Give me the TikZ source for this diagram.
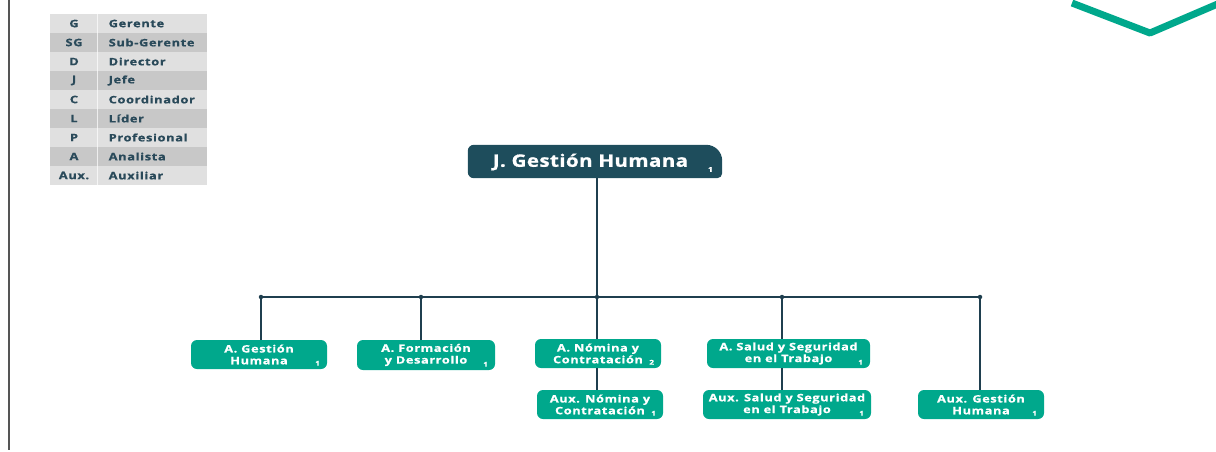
\documentclass[tikz,border=0pt]{standalone}
\usepackage{fontspec}
\setmainfont{Open Sans}
\newfontfamily\boxfont[FakeStretch=1.25,LetterSpace=6,FakeBold=0.8]{Open Sans}
\newfontfamily\titlefont[FakeStretch=1.2,LetterSpace=2,FakeBold=0.8]{Open Sans}
\newfontfamily\legfont[FakeStretch=1.25,LetterSpace=6,FakeBold=0.8]{Open Sans}
\definecolor{teal1}{HTML}{00A88C}
\definecolor{darknode}{HTML}{1E4D5C}
\definecolor{linec}{HTML}{1F3F4F}
\definecolor{legtext}{HTML}{2A4A5A}
\definecolor{rowlight}{HTML}{E0E0E0}
\definecolor{rowdark}{HTML}{C8C8C8}
\definecolor{sidebar}{HTML}{555555}
\tikzset{
  box/.style={fill=teal1, rounded corners=6pt, inner sep=0pt, text=white,
    font=\boxfont\bfseries\fontsize{10.2}{11.8}\selectfont, align=center},
  sub/.style={text=white, font=\boxfont\bfseries\fontsize{6.6}{7}\selectfont, inner sep=0pt, anchor=south east},
  conn/.style={draw=linec, line width=1.3pt},
  dot/.style={circle, fill=linec, inner sep=0pt, minimum size=4.5pt},
  legab/.style={text=legtext, font=\legfont\bfseries\fontsize{10.3}{12}\selectfont, inner sep=0pt},
  legname/.style={text=legtext, font=\legfont\bfseries\fontsize{10.3}{12}\selectfont, inner sep=0pt, anchor=west},
}
\begin{document}
\begin{tikzpicture}[x=1pt, y=-1pt]
\useasboundingbox (0,0) rectangle (1216,451);
% side bar
\draw[sidebar, line width=1.6pt] (9,0) -- (9,450);
% chevron
\draw[teal1, line width=7pt, line join=round] (1072,3) -- (1150,33) -- (1220,3);
% legend
\foreach \i/\ab/\nm in {0/G/Gerente,1/SG/Sub-Gerente,2/D/Director,3/J/Jefe,4/C/Coordinador,5/L/Líder,6/P/Profesional,7/A/Analista,8/Aux./Auxiliar}{
  \pgfmathsetmacro{\ytop}{14+19*\i}
  \pgfmathtruncatemacro{\odd}{mod(\i,2)}
  \ifnum\odd=1 \def\rc{rowdark}\else\def\rc{rowlight}\fi
  \fill[\rc] (50,\ytop) rectangle (207,\ytop+19);
  \node[legab] (ab\i) at (74,\ytop+9.5) {\ab};
  \node[legname] (nm\i) at (108.5,\ytop+9.5) {\nm};
}
\draw[white, line width=0.8pt, opacity=0.7] (97,14) -- (97,185);
% top node
\node[minimum width=254pt, minimum height=33pt, inner sep=0pt] (top) at (595,161.5) {};
\fill[darknode] (top.south west) [rounded corners=6pt] -- (top.north west) [rounded corners=16pt] -- (top.north east) [rounded corners=5pt] -- (top.south east) [rounded corners=6pt] -- cycle;
\node[text=white, font=\titlefont\bfseries\fontsize{17.2}{20}\selectfont, inner sep=0pt] (toptext) at (590.5,162) {J. Gestión Humana};
\node[sub] (topsub) at (713,172) {1};
% boxes
\node[box, minimum width=136pt, minimum height=29pt] (b1) at (259,354.5) {A. Gestión\\Humana};
\node[box, minimum width=138pt, minimum height=30pt] (b2) at (426,355) {A. Formación\\y Desarrollo};
\node[box, minimum width=126pt, minimum height=29pt] (b3) at (598,353.5) {A. Nómina y\\Contratación};
\node[box, minimum width=163pt, minimum height=29pt] (b4) at (788.5,353.5) {A. Salud y Seguridad\\en el Trabajo};
\node[box, minimum width=126pt, minimum height=29pt] (b5) at (600,404.5) {Aux. Nómina y\\Contratación};
\node[box, minimum width=168pt, minimum height=29pt] (b6) at (787,404.5) {Aux. Salud y Seguridad\\en el Trabajo};
\node[box, minimum width=126pt, minimum height=29pt] (b7) at (981,404.5) {Aux. Gestión\\Humana};
\foreach \b/\n in {b1/1,b2/1,b3/2,b4/1,b5/1,b6/1,b7/1}{
  \node[sub] at ([xshift=-7pt, yshift=3.3pt]\b.south east) {\n};
}
% bus
\coordinate (c1) at (261,297);
\coordinate (c2) at (421,297);
\coordinate (c3) at (597,297);
\coordinate (c4) at (782,297);
\coordinate (c5) at (980,297);
\draw[conn] (top.south -| c3) -- (c3);
\draw[conn] (c1) -- (c5);
\draw[conn, line width=2.6pt] (c1) -- (b1.north -| c1);
\draw[conn] (c2) -- (b2.north -| c2);
\draw[conn] (c3) -- (b3.north -| c3);
\draw[conn] (c4) -- (b4.north -| c4);
\draw[conn] (c5) -- (b7.north -| c5);
\draw[conn] (b3.south -| c3) -- (b5.north -| c3);
\draw[conn] (b4.south -| c4) -- (b6.north -| c4);
\foreach \c in {c1,c2,c3,c4,c5} \node[dot] at (\c) {};
\end{tikzpicture}
\end{document}
